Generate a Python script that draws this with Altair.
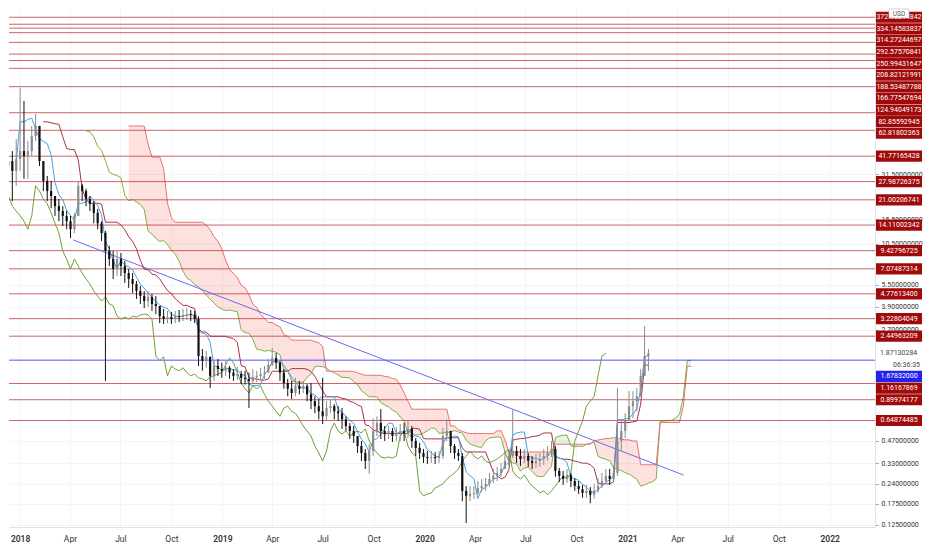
import math

import altair as alt
import numpy as np
import pandas as pd

# plot area size (px) and visible price range of the log axis
W, H = 866, 518
Y_MIN, Y_MAX = 0.1211, 424.8

# weekly candles from 2017-12-04
start = "2017-12-04"
first_open = 33.0
close = [35.8, 38.7, 33.1, 39.9, 45.3, 41.9, 45.3, 57.4, 67.3, 38.7,
         28.3, 24.1, 22.3, 19.0, 17.6, 16.3, 15.0, 13.2, 16.3, 26.2,
         24.1, 21.3, 19.7, 17.1, 14.5, 12.45, 9.37, 8.26, 7.06, 8.26,
         7.40, 6.63, 6.03, 5.58, 4.99, 4.61, 4.26, 4.54, 4.07, 3.94,
         3.36, 3.21, 3.31, 3.21, 3.36, 3.31, 3.42, 3.47, 3.42, 3.21,
         1.79, 1.66, 1.77, 1.31, 1.53, 1.46, 1.42, 1.49, 1.38, 1.31,
         1.35, 1.27, 1.25, 1.21, 1.29, 1.31, 1.35, 1.38, 1.56, 1.74,
         1.61, 1.38, 1.17, 1.07, 1.00, 1.12, 1.07, 1.12, 0.98, 0.88,
         0.813, 0.75, 0.693, 0.79, 0.813, 0.75, 0.727, 0.661, 0.595, 0.55,
         0.508, 0.434, 0.389, 0.343, 0.401, 0.55, 0.624, 0.55, 0.525, 0.55,
         0.508, 0.533, 0.55, 0.533, 0.568, 0.47, 0.421, 0.389, 0.365, 0.359,
         0.365, 0.359, 0.371, 0.508, 0.55, 0.434, 0.389, 0.371, 0.214, 0.198,
         0.204, 0.207, 0.224, 0.231, 0.239, 0.258, 0.271, 0.284, 0.302, 0.343,
         0.371, 0.401, 0.371, 0.354, 0.371, 0.343, 0.332, 0.343, 0.354, 0.371,
         0.389, 0.414, 0.293, 0.271, 0.258, 0.275, 0.25, 0.231, 0.220, 0.207,
         0.214, 0.201, 0.214, 0.231, 0.25, 0.271, 0.258, 0.284, 0.47, 0.55,
         0.644, 0.813, 0.88, 0.95, 1.31, 1.79, 1.87]
high = [53.1, 53.1, 45.3, 54.8, 123.0, 99.6, 53.1, 67.3, 81.2, 67.3,
        38.7, 30.6, 28.3, 22.3, 21.3, 19.0, 17.6, 16.3, 17.1, 28.3,
        27.0, 25.0, 22.3, 20.6, 18.2, 15.0, 12.85, 10.15, 9.37, 9.37,
        9.08, 8.01, 7.06, 6.63, 5.85, 5.41, 4.99, 4.99, 4.76, 4.61,
        3.94, 3.76, 3.64, 3.58, 3.64, 3.70, 3.76, 3.81, 3.70, 3.64,
        3.36, 2.00, 1.94, 1.71, 1.66, 1.71, 1.61, 1.66, 1.53, 1.46,
        1.51, 1.42, 1.42, 1.38, 1.46, 1.42, 1.49, 1.53, 1.71, 2.03,
        1.88, 1.66, 1.46, 1.25, 1.21, 1.27, 1.21, 1.21, 1.15, 1.17,
        0.95, 0.91, 1.27, 0.88, 0.91, 0.84, 0.813, 0.79, 0.693, 0.624,
        0.595, 0.508, 0.47, 0.414, 0.448, 0.671, 0.693, 0.776, 0.595, 0.595,
        0.577, 0.586, 0.615, 0.624, 0.644, 0.595, 0.492, 0.455, 0.414, 0.401,
        0.401, 0.395, 0.401, 0.577, 0.661, 0.55, 0.448, 0.414, 0.389, 0.231,
        0.231, 0.231, 0.25, 0.258, 0.262, 0.284, 0.302, 0.312, 0.332, 0.401,
        0.414, 0.764, 0.434, 0.414, 0.414, 0.389, 0.371, 0.383, 0.389, 0.414,
        0.434, 0.47, 0.434, 0.307, 0.293, 0.302, 0.284, 0.262, 0.25, 0.235,
        0.235, 0.227, 0.239, 0.262, 0.284, 0.302, 0.302, 0.317, 1.08, 0.644,
        0.727, 1.03, 1.03, 1.08, 1.46, 2.87, 2.00]
low = [24.1, 22.3, 20.6, 26.2, 33.1, 29.2, 29.2, 41.9, 53.1, 35.8,
       24.1, 20.6, 18.4, 16.3, 15.0, 13.9, 13.2, 11.5, 12.45, 16.3,
       20.6, 19.0, 17.6, 14.5, 13.2, 10.98, 1.21, 7.40, 6.03, 6.32,
       6.32, 5.67, 5.24, 4.84, 4.40, 4.07, 3.81, 3.88, 3.64, 3.47,
       3.01, 2.97, 3.01, 2.97, 3.01, 3.06, 3.11, 3.16, 3.11, 3.01,
       1.53, 1.42, 1.49, 1.08, 1.21, 1.31, 1.27, 1.31, 1.25, 1.21,
       1.23, 1.15, 1.14, 0.79, 1.15, 1.19, 1.23, 1.25, 1.38, 1.53,
       1.46, 1.21, 1.07, 0.95, 0.91, 0.95, 0.98, 1.00, 0.88, 0.776,
       0.727, 0.661, 0.615, 0.644, 0.727, 0.661, 0.644, 0.568, 0.55, 0.485,
       0.455, 0.389, 0.343, 0.302, 0.28, 0.371, 0.508, 0.485, 0.47, 0.485,
       0.463, 0.47, 0.47, 0.47, 0.492, 0.421, 0.371, 0.354, 0.332, 0.327,
       0.332, 0.327, 0.332, 0.354, 0.47, 0.389, 0.354, 0.343, 0.182, 0.129,
       0.182, 0.189, 0.201, 0.211, 0.214, 0.227, 0.242, 0.25, 0.267, 0.302,
       0.317, 0.359, 0.332, 0.317, 0.332, 0.312, 0.302, 0.307, 0.312, 0.322,
       0.343, 0.365, 0.267, 0.246, 0.235, 0.242, 0.227, 0.214, 0.204, 0.192,
       0.192, 0.176, 0.189, 0.207, 0.224, 0.242, 0.235, 0.25, 0.271, 0.401,
       0.492, 0.644, 0.671, 0.75, 0.95, 1.31, 1.42]

# horizontal price levels
levels = [372.98814842, 334.14583837, 314.27244697, 292.57570841, 250.99431647,
          208.82121991, 188.53487788, 166.77547694, 124.94049173, 82.85592945,
          62.81802363, 41.77165428, 27.98726375, 21.00206741, 14.11002342,
          9.42796725, 7.07487314, 4.77613400, 3.22804049, 2.44963209,
          1.16167869, 0.89974177, 0.64874485]
blue_level = 1.67832000
last_price = 1.87130284
countdown = "06:36:35"

# diagonal trend line
trend_dates = ["2018-04-07", "2021-04-12"]
trend_prices = [11.15, 0.275]

axis_ticks = [0.125, 0.175, 0.24, 0.33, 0.47, 2.7, 3.9, 5.5, 10.5, 15.5, 31.5]

# candles
dates = pd.date_range(start, periods=len(close), freq="7D")
df = pd.DataFrame({"date": dates, "open": [first_open] + close[:-1],
                   "high": high, "low": low, "close": close})
df["high"] = df[["high", "open", "close"]].max(axis=1)
df["low"] = df[["low", "open", "close"]].min(axis=1)
df["dir"] = np.where(df["close"] >= df["open"], "up", "down")

# ichimoku (3D settings 9/26/52 expressed in weeks)
def mid(n):
    return (df["high"].rolling(n).max() + df["low"].rolling(n).min()) / 2

shift = pd.Timedelta(days=77)
df["tenkan"] = mid(4)
df["kijun"] = mid(11)
lead = pd.DataFrame({"date": df["date"] + shift,
                     "a": (df["tenkan"] + df["kijun"]) / 2,
                     "b": mid(22)})
lead_a_df = lead.dropna(subset=["a"])
cloud = lead.dropna().copy()
cloud["top"] = cloud[["a", "b"]].max(axis=1)
chikou = pd.DataFrame({"date": df["date"] - shift, "close": df["close"]})

# price labels on the right, pushed apart like the trading screen does
ppl = H / math.log(Y_MAX / Y_MIN)
gap, half = 11.6 / ppl, 5.6 / ppl
entries = [(v, f"{v:.8f}", "red", 0) for v in levels]
entries += [(blue_level, f"{blue_level:.8f}", "blue", 0),
            (last_price, f"{last_price:.8f}", "last", 0),
            (last_price, countdown, "timer", 1)]
entries.sort(key=lambda e: (-e[0], e[3]))
rows, prev = [], math.log(Y_MAX) - half + gap
for v, t, k, _ in entries:
    p = min(math.log(v), prev - gap)
    prev = p
    rows.append({"text": t, "kind": k, "pos": math.exp(p),
                 "top": math.exp(p + half), "bot": math.exp(p - half),
                 "fill": "#2323f0" if k == "blue" else "#a10a0a"})
labels = pd.DataFrame(rows)
boxes = labels[labels["kind"].isin(["red", "blue"])]

# scales / axes
xs = alt.Scale(domain=[alt.DateTime(year=2017, month=12, date=21),
                       alt.DateTime(year=2022, month=3, date=14, hours=19)], nice=False)
ys = alt.Scale(type="log", domain=[Y_MIN, Y_MAX], nice=False)
xaxis = alt.Axis(
    title=None,
    values=[alt.DateTime(year=y, month=m, date=1)
            for y in range(2018, 2023) for m in (1, 4, 7, 10) if (y, m) <= (2022, 1)],
    labelExpr="month(datum.value) == 0 ? timeFormat(datum.value, '%Y') : timeFormat(datum.value, '%b')",
    labelFontWeight={"condition": {"test": "month(datum.value) == 0", "value": 600}, "value": 400},
    labelFont="Roboto", labelFontSize=8.5, labelColor="#333", labelPadding=7,
    ticks=False, grid=True, gridColor="#f3f4f7", domainColor="#e0e3eb",
)
yaxis = alt.Axis(
    title=None, orient="right", values=axis_ticks, format=".8f",
    labelFont="Roboto", labelFontSize=7, labelColor="#333", labelPadding=3,
    labelOverlap=False, tickSize=3, tickColor="#999",
    grid=True, gridColor="#f3f4f7", domainColor="#e0e3eb",
)


def X(f):
    return alt.X(f"{f}:T", scale=xs, axis=xaxis)


def Y(f):
    return alt.Y(f"{f}:Q", scale=ys, axis=yaxis)


cloud_red = alt.Chart(cloud).mark_area(color="#f44336", opacity=0.16, clip=True).encode(
    x=X("date"), y=Y("a"), y2=alt.Y2("top"))
cloud_green = alt.Chart(cloud).mark_area(color="#4caf50", opacity=0.15, clip=True).encode(
    x=X("date"), y=Y("b"), y2=alt.Y2("top"))
lead_a = alt.Chart(lead_a_df).mark_line(color="#7cb342", strokeWidth=1, clip=True).encode(
    x=X("date"), y=Y("a"))
lead_b = alt.Chart(cloud).mark_line(color="#e57373", strokeWidth=1, clip=True).encode(
    x=X("date"), y=Y("b"))

lv = pd.DataFrame({"price": levels})
red_lines = alt.Chart(lv).mark_rule(color="#b83232", strokeWidth=1, opacity=0.75).encode(
    y=Y("price"))
blue_line = alt.Chart(pd.DataFrame({"price": [blue_level]})).mark_rule(
    color="#3434ff", strokeWidth=1, opacity=0.85).encode(y=Y("price"))

trend = alt.Chart(pd.DataFrame({"date": pd.to_datetime(trend_dates), "price": trend_prices})).mark_line(
    color="#6b6bf0", strokeWidth=1, clip=True).encode(x=X("date"), y=Y("price"))

kijun = alt.Chart(df.dropna(subset=["kijun"])).mark_line(color="#a8324a", strokeWidth=1, clip=True).encode(
    x=X("date"), y=Y("kijun"))
tenkan = alt.Chart(df.dropna(subset=["tenkan"])).mark_line(color="#45a2e6", strokeWidth=1, clip=True).encode(
    x=X("date"), y=Y("tenkan"))
lag = alt.Chart(chikou).mark_line(color="#6aa13a", strokeWidth=1, clip=True).encode(
    x=X("date"), y=Y("close"))

candle_color = alt.Color("dir:N", scale=alt.Scale(domain=["up", "down"], range=["#8c8c8c", "#111111"]),
                         legend=None)
wicks = alt.Chart(df).mark_rule(strokeWidth=1, clip=True).encode(
    x=X("date"), y=Y("low"), y2=alt.Y2("high"), color=candle_color)
bodies = alt.Chart(df).mark_bar(width=2.2, clip=True).encode(
    x=X("date"), y=Y("open"), y2=alt.Y2("close"), color=candle_color)

label_boxes = alt.Chart(boxes).mark_rect().encode(
    x=alt.value(W + 1), x2=alt.value(W + 47), y=Y("top"), y2=alt.Y2("bot"),
    color=alt.Color("fill:N", scale=None))
label_text = alt.Chart(boxes).mark_text(font="Roboto", fontSize=7, color="white", align="center",
                                        baseline="middle").encode(
    x=alt.value(W + 24), y=Y("pos"), text="text:N")
last_text = alt.Chart(labels[labels["kind"] == "last"]).mark_text(
    font="Roboto", fontSize=7, color="#444", align="left", baseline="middle").encode(
    x=alt.value(W + 5), y=Y("pos"), text="text:N")
timer_text = alt.Chart(labels[labels["kind"] == "timer"]).mark_text(
    font="Roboto", fontSize=7, color="#444", align="right", baseline="middle").encode(
    x=alt.value(W + 45), y=Y("pos"), text="text:N")

usd = pd.DataFrame({"t": ["USD"]})
usd_box = alt.Chart(usd).mark_rect(fill="white", stroke="#c8c8c8", strokeWidth=0.8).encode(
    x=alt.value(W + 14), x2=alt.value(W + 34), y=alt.value(0), y2=alt.value(9))
usd_text = alt.Chart(usd).mark_text(font="Roboto", fontSize=6.5, color="#555", baseline="middle").encode(
    x=alt.value(W + 24), y=alt.value(4.5), text="t:N")

chart = alt.layer(
    cloud_red, cloud_green, lead_a, lead_b, red_lines, blue_line, trend,
    kijun, tenkan, lag, wicks, bodies,
    label_boxes, label_text, last_text, timer_text, usd_box, usd_text,
).properties(width=W, height=H, padding=0).configure_view(stroke=None)

chart.save("out.html", embed_options={"renderer": "svg", "actions": False})
